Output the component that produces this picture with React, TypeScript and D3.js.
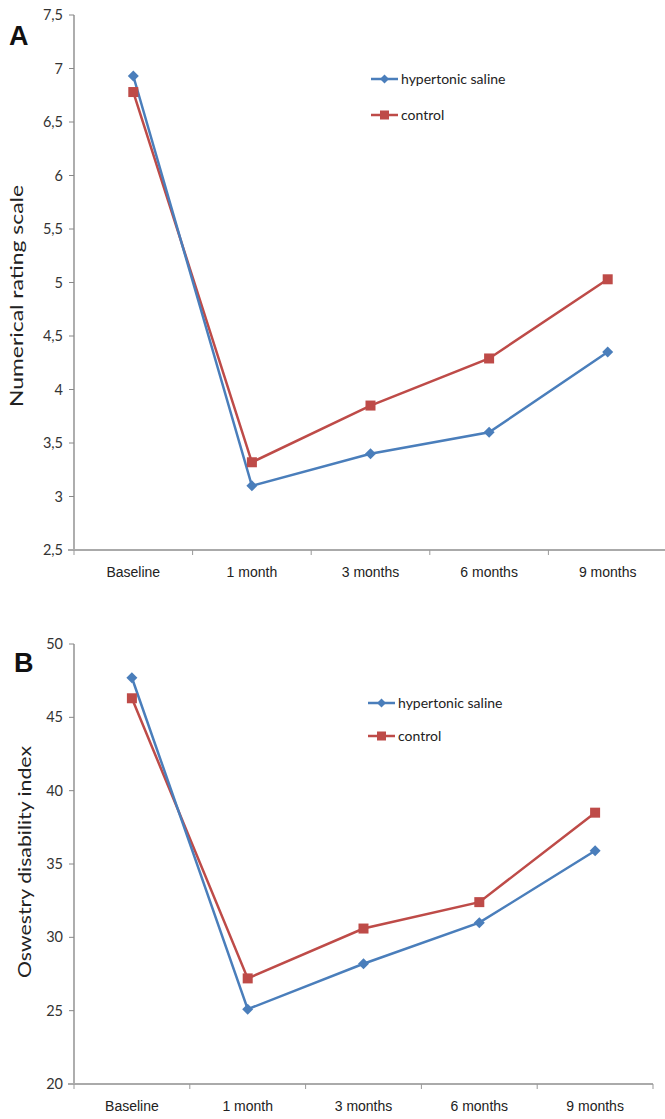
import React from "react";
import * as d3 from "d3";

const categories = ["Baseline", "1 month", "3 months", "6 months", "9 months"];
const nrsSaline = [6.93, 3.1, 3.4, 3.6, 4.35];
const nrsControl = [6.78, 3.32, 3.85, 4.29, 5.03];
const nrsTicks = [2.5, 3, 3.5, 4, 4.5, 5, 5.5, 6, 6.5, 7, 7.5];
const odiSaline = [47.7, 25.1, 28.2, 31.0, 35.9];
const odiControl = [46.3, 27.2, 30.6, 32.4, 38.5];
const odiTicks = [20, 25, 30, 35, 40, 45, 50];
const seriesNames = ["hypertonic saline", "control"];

const BLUE = "#4a7ebb";
const RED = "#be4b48";
const numFont = "Lato, 'Open Sans', sans-serif";
const catFont = "'Liberation Sans Narrow', 'Arial Narrow', 'Liberation Sans', sans-serif";

type PanelProps = {
  letter: string;
  yLabel: string;
  yLabelLen: number;
  saline: number[];
  control: number[];
  ticks: number[];
  xRange: [number, number];
  yRange: [number, number];
  yDomain: [number, number];
  fmt: (v: number) => string;
  legendX: number;
  legendY: number;
  legendGap: number;
  yLabelX: number;
  yLabelY: number;
  letterPos: [number, number];
};

function Panel(p: PanelProps) {
  const x = d3.scaleBand<string>().domain(categories).range(p.xRange).padding(0);
  const y = d3.scaleLinear().domain(p.yDomain).range(p.yRange);
  const line = d3
    .line<number>()
    .x((_, i) => (x(categories[i]) as number) + x.bandwidth() / 2)
    .y((v) => y(v));
  const x0 = p.xRange[0];
  const yBottom = p.yRange[0];
  const diamond = (cx: number, cy: number, r: number) =>
    `M${cx},${cy - r}L${cx + r},${cy}L${cx},${cy + r}L${cx - r},${cy}Z`;
  const boundaries = categories.map((c) => x(c) as number).concat([p.xRange[1]]);
  return (
    <g>
      <text x={p.letterPos[0]} y={p.letterPos[1]} fontFamily="'Liberation Sans', Arial, sans-serif" fontWeight="bold" fontSize={27} fill="#111">
        {p.letter}
      </text>
      {/* y axis */}
      <line x1={x0} x2={x0} y1={p.yRange[1]} y2={yBottom} stroke="#777" strokeWidth={1.2} />
      {p.ticks.map((t) => (
        <g key={t}>
          <line x1={x0 - 5} x2={x0} y1={y(t)} y2={y(t)} stroke="#888" strokeWidth={1} />
          <text x={x0 - 11} y={y(t)} dy="0.35em" textAnchor="end" fontFamily={numFont} fontSize={14.5} fill="#333">
            {p.fmt(t)}
          </text>
        </g>
      ))}
      <text
        transform={`translate(${p.yLabelX},${p.yLabelY}) rotate(-90)`}
        textAnchor="middle"
        fontFamily={numFont}
        fontSize={17}
        textLength={p.yLabelLen}
        lengthAdjust="spacingAndGlyphs"
        fill="#222"
      >
        {p.yLabel}
      </text>
      {/* x axis */}
      <line x1={x0 - 6} x2={p.xRange[1]} y1={yBottom} y2={yBottom} stroke="#aaa" strokeWidth={2} />
      {boundaries.map((b, i) => (
        <line key={i} x1={b} x2={b} y1={yBottom} y2={yBottom + 5} stroke="#999" strokeWidth={1} />
      ))}
      {categories.map((c) => (
        <text
          key={c}
          x={(x(c) as number) + x.bandwidth() / 2}
          y={yBottom + 27}
          textAnchor="middle"
          fontFamily={catFont}
          fontSize={14}
          fill="#222"
        >
          {c}
        </text>
      ))}
      {/* series */}
      <path d={line(p.control) || ""} fill="none" stroke={RED} strokeWidth={2.5} />
      <path d={line(p.saline) || ""} fill="none" stroke={BLUE} strokeWidth={2.5} />
      {p.control.map((v, i) => {
        const cx = (x(categories[i]) as number) + x.bandwidth() / 2;
        return <rect key={i} x={cx - 5} y={y(v) - 5} width={10} height={10} fill={RED} />;
      })}
      {p.saline.map((v, i) => {
        const cx = (x(categories[i]) as number) + x.bandwidth() / 2;
        return <path key={i} d={diamond(cx, y(v), 5.5)} fill={BLUE} />;
      })}
      {/* legend */}
      <g>
        <line x1={p.legendX} x2={p.legendX + 27} y1={p.legendY} y2={p.legendY} stroke={BLUE} strokeWidth={2.5} />
        <path d={diamond(p.legendX + 13.5, p.legendY, 4.5)} fill={BLUE} />
        <text x={p.legendX + 30} y={p.legendY} dy="0.35em" fontFamily={numFont} fontSize={14} fill="#222">
          {seriesNames[0]}
        </text>
        <line x1={p.legendX} x2={p.legendX + 27} y1={p.legendY + p.legendGap} y2={p.legendY + p.legendGap} stroke={RED} strokeWidth={2.5} />
        <rect x={p.legendX + 9} y={p.legendY + p.legendGap - 4.5} width={9} height={9} fill={RED} />
        <text x={p.legendX + 30} y={p.legendY + p.legendGap} dy="0.35em" fontFamily={numFont} fontSize={14} fill="#222">
          {seriesNames[1]}
        </text>
      </g>
    </g>
  );
}

export default function App() {
  const comma = (v: number) => String(v).replace(".", ",");
  return (
    <svg
      width={665}
      height={1119}
      style={{ position: "absolute", left: 0, top: 0, display: "block", background: "#fff" }}
    >
      <rect width={665} height={1119} fill="#fff" />
      <Panel
        letter="A"
        yLabel="Numerical rating scale"
        yLabelLen={222}
        saline={nrsSaline}
        control={nrsControl}
        ticks={nrsTicks}
        xRange={[74, 667]}
        yRange={[550, 15]}
        yDomain={[2.5, 7.5]}
        fmt={comma}
        legendX={371}
        legendY={79}
        legendGap={36}
        yLabelX={23}
        yLabelY={296}
        letterPos={[9, 45]}
      />
      <Panel
        letter="B"
        yLabel="Oswestry disability index"
        yLabelLen={232}
        saline={odiSaline}
        control={odiControl}
        ticks={odiTicks}
        xRange={[74, 653]}
        yRange={[1084, 644]}
        yDomain={[20, 50]}
        fmt={(v) => String(v)}
        legendX={368}
        legendY={703}
        legendGap={33}
        yLabelX={31}
        yLabelY={862}
        letterPos={[14, 672]}
      />
    </svg>
  );
}
